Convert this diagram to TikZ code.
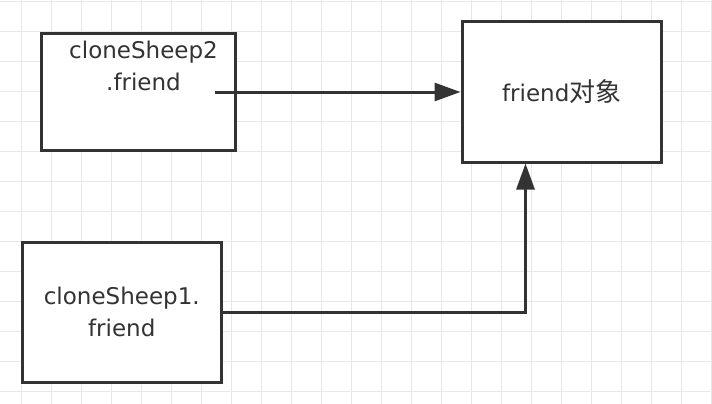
\documentclass[tikz,border=0pt]{standalone}
\usepackage{fontspec}
\setmainfont{DejaVu Sans}
\newfontfamily\cjk[Scale=1.13]{Noto Sans CJK SC}
\usetikzlibrary{arrows.meta}
\definecolor{inkgray}{HTML}{333333}
\definecolor{gridgray}{HTML}{E8E8E8}
\tikzset{
  objbox/.style={draw=inkgray, line width=3pt, fill=white, inner sep=0pt, text=inkgray,
    font=\fontsize{23}{32}\selectfont, align=center},
  reftext/.style={text=inkgray, font=\fontsize{23}{32}\selectfont, align=center, inner sep=0pt},
  refarrow/.style={draw=inkgray, line width=3pt, -{Triangle[length=26pt,width=18pt]}},
  gridline/.style={draw=gridgray, line width=1.5pt}
}

\begin{document}
\begin{tikzpicture}[x=1pt,y=-1pt]
			%%%%% background grid %%%%%
			\useasboundingbox (0,0) rectangle (712,404);
			\fill[white] (0,0) rectangle (712,404);
			\foreach \gx in {0,...,23}
				\draw[gridline] (21.7+30*\gx,0) -- (21.7+30*\gx,404);
			\foreach \gy in {0,...,13}
				\draw[gridline] (0,1.7+30*\gy) -- (712,1.7+30*\gy);
			
			%%%%% boxes %%%%%
			\node[objbox, minimum width=194pt, minimum height=117pt] (sheep2) at (138.5,92) {};
			\node[reftext] (sheep2txt) at (143.5,66) {cloneSheep2\\.friend};
			
			\node[objbox, minimum width=199.5pt, minimum height=140pt] (friend) at (561.75,92) {friend{\cjk 对象}};
			
			\node[objbox, minimum width=199.5pt, minimum height=140pt] (sheep1) at (121.75,312) {cloneSheep1.\\friend};
			
			%%%%% references %%%%%
			\coordinate (sheep2out) at (215,92);
			\coordinate (friendin) at (525.5,163.5);
			\draw[refarrow] (sheep2out) -- (friend.west);
			\draw[refarrow] (sheep1.east) -| (friendin);
\end{tikzpicture}
\end{document}
